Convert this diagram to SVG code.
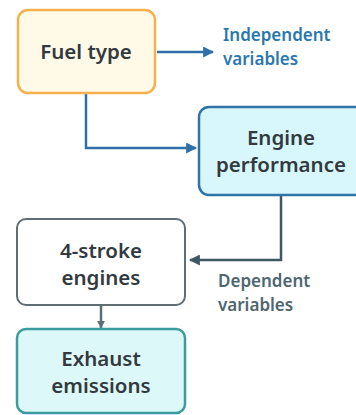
<svg xmlns="http://www.w3.org/2000/svg" width="356" height="415" viewBox="0 0 356 415">
  <defs>
    <marker id="arrBlue" viewBox="0 0 10 10" refX="9" refY="5" markerWidth="11" markerHeight="11" markerUnits="userSpaceOnUse" orient="auto">
      <path d="M0,0 L10,5 L0,10 z" fill="#2F6FA6"/>
    </marker>
    <marker id="arrSlate" viewBox="0 0 10 10" refX="9" refY="5" markerWidth="11" markerHeight="11" markerUnits="userSpaceOnUse" orient="auto">
      <path d="M0,0 L10,5 L0,10 z" fill="#3F5663"/>
    </marker>
    <marker id="arrGray" viewBox="0 0 10 10" refX="9" refY="5" markerWidth="8" markerHeight="8" markerUnits="userSpaceOnUse" orient="auto">
      <path d="M0,0 L10,5 L0,10 z" fill="#5E6E74"/>
    </marker>
  </defs>
  <style>
    .lbl { font-family: "Noto Sans", "Open Sans", sans-serif; font-weight: 600; text-anchor: middle; fill: #333a3f; font-size: 20.5px; }
    .note { font-family: "Noto Sans", "Open Sans", sans-serif; font-weight: 600; font-size: 17px; }
    .conn { fill: none; stroke-width: 2.5; }
  </style>
  <rect width="356" height="415" fill="#ffffff"/>

  <g id="connectors">
    <path class="conn" d="M157,52 H213" stroke="#2F6FA6" marker-end="url(#arrBlue)"/>
    <path class="conn" d="M86,94 V148 H196" stroke="#2F6FA6" marker-end="url(#arrBlue)"/>
    <path class="conn" d="M281,195 V260 H190" stroke="#3F5663" marker-end="url(#arrSlate)"/>
    <path class="conn" d="M101,306 V328" stroke="#5E6E74" stroke-width="2" marker-end="url(#arrGray)"/>
  </g>

  <g id="fuel-type">
    <rect x="18" y="10" width="137" height="83" rx="10" fill="#FFF9E8" stroke="#F6B14F" stroke-width="2.5"/>
    <text class="lbl" x="86" y="59">Fuel type</text>
  </g>

  <g id="independent-variables">
    <text class="note" fill="#2A78AE" x="223" y="41">Independent</text>
    <text class="note" fill="#2A78AE" x="223" y="65">variables</text>
  </g>

  <g id="engine-performance">
    <rect x="199" y="107" width="170" height="88" rx="10" fill="#D8F7FC" stroke="#2F74A8" stroke-width="2.5"/>
    <text class="lbl" x="281" y="145">Engine</text>
    <text class="lbl" x="281" y="172">performance</text>
  </g>

  <g id="four-stroke-engines">
    <rect x="17" y="219" width="168" height="86" rx="9" fill="#ffffff" stroke="#5E6E74" stroke-width="2"/>
    <text class="lbl" x="101" y="258">4-stroke</text>
    <text class="lbl" x="101" y="285">engines</text>
  </g>

  <g id="dependent-variables">
    <text class="note" fill="#4E6671" x="218" y="287">Dependent</text>
    <text class="note" fill="#4E6671" x="218" y="311">variables</text>
  </g>

  <g id="exhaust-emissions">
    <rect x="17" y="329" width="168" height="84" rx="9" fill="#DDF8F8" stroke="#3A9C9E" stroke-width="2.5"/>
    <text class="lbl" x="101" y="366">Exhaust</text>
    <text class="lbl" x="101" y="393">emissions</text>
  </g>
</svg>
